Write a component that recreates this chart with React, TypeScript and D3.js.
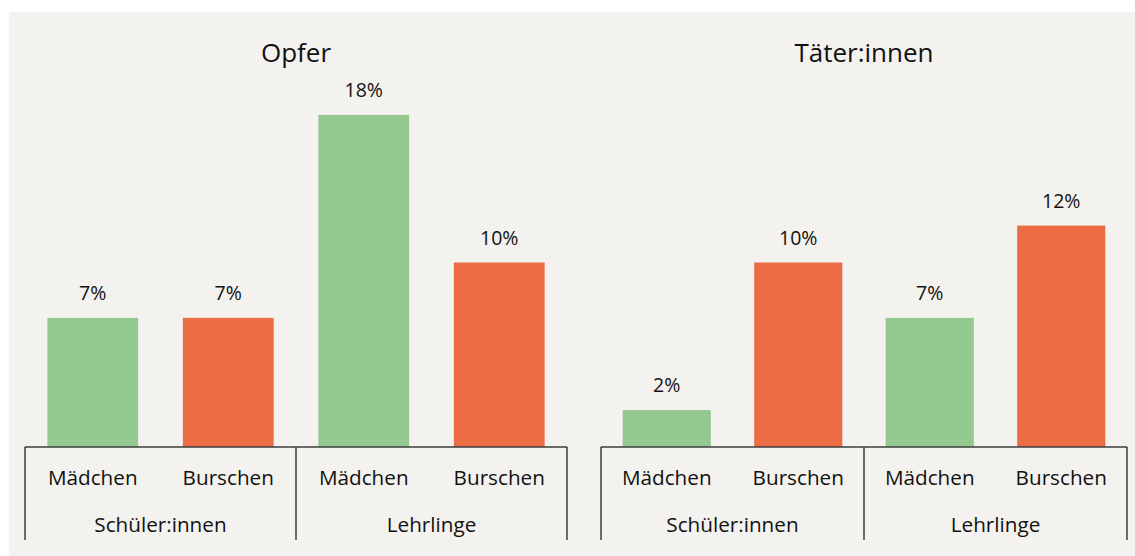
import React from "react";
import * as d3 from "d3";

const panelTitles = ["Opfer", "Täter:innen"];
const categories = ["Schüler:innen|Mädchen", "Schüler:innen|Burschen", "Lehrlinge|Mädchen", "Lehrlinge|Burschen"];
const subLabels = ["Mädchen", "Burschen", "Mädchen", "Burschen"];
const groupLabels = ["Schüler:innen", "Lehrlinge"];
const opferValues = [7, 7, 18, 10];
const taeterValues = [2, 10, 7, 12];
const barColors = ["#93c98f", "#ec6c43", "#93c98f", "#ec6c43"];

const W = 1135;
const H = 556;
const FONT = "'Open Sans', sans-serif";

const y = d3.scaleLinear().domain([0, 20]).range([447, 78]);

function Panel({ x0, x1, title, values }: { x0: number; x1: number; title: string; values: number[] }) {
  const x = d3.scaleBand<string>().domain(categories).range([x0, x1]).paddingInner(0.33).paddingOuter(0.165);
  const mid = (x0 + x1) / 2;
  const axisY = y(0);
  const stroke = "#3c3c3c";
  return (
    <g>
      <text x={mid} y={62} textAnchor="middle" fontSize={26} fill="#111" fontFamily={FONT}>
        {title}
      </text>
      {categories.map((c, i) => (
        <g key={c}>
          <rect x={x(c)} y={y(values[i])} width={x.bandwidth()} height={axisY - y(values[i])} fill={barColors[i]} />
          <text x={(x(c) as number) + x.bandwidth() / 2} y={y(values[i]) - 18} textAnchor="middle" fontSize={19.5} fill="#111" fontFamily={FONT}>
            {values[i] + "%"}
          </text>
          <text x={(x(c) as number) + x.bandwidth() / 2} y={485} textAnchor="middle" fontSize={20.7} fill="#111" fontFamily={FONT}>
            {subLabels[i]}
          </text>
        </g>
      ))}
      <line x1={x0} x2={x1} y1={axisY} y2={axisY} stroke={stroke} strokeWidth={1.5} />
      {[x0, mid, x1].map((t, i) => (
        <line key={i} x1={t} x2={t} y1={axisY} y2={540} stroke={stroke} strokeWidth={1.5} />
      ))}
      {groupLabels.map((g, i) => (
        <text key={g} x={i === 0 ? (x0 + mid) / 2 : (mid + x1) / 2} y={532} textAnchor="middle" fontSize={20.7} fill="#111" fontFamily={FONT}>
          {g}
        </text>
      ))}
    </g>
  );
}

export default function App() {
  return (
    <svg width={W} height={H} style={{ position: "absolute", left: 0, top: 0, display: "block" }}>
      <rect x={0} y={0} width={W} height={H} fill="#ffffff" />
      <rect x={9} y={12} width={W - 9} height={H - 12} fill="#f4f2ee" />
      <Panel x0={25} x1={567} title={panelTitles[0]} values={opferValues} />
      <Panel x0={601} x1={1127} title={panelTitles[1]} values={taeterValues} />
    </svg>
  );
}
